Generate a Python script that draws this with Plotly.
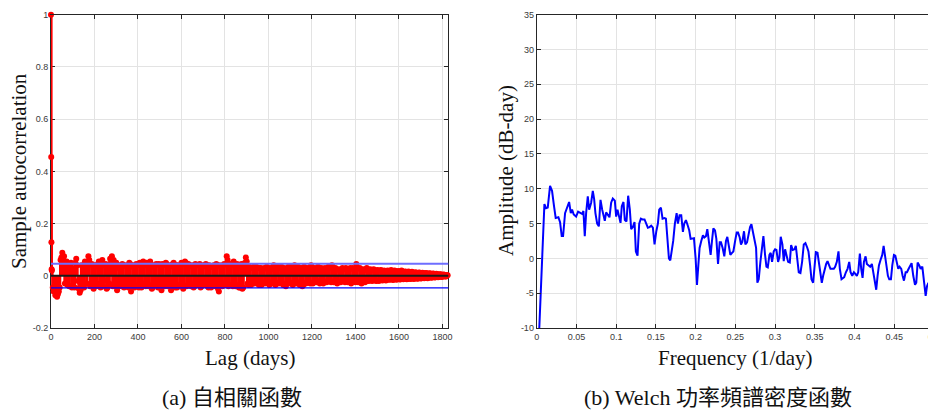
import plotly.graph_objects as go

# ---------------- Data: (a) sample autocorrelation ----------------
early_lags = [0, 1, 2, 3]
early_acf = [1.0, 0.455, 0.128, 0.025]

# lags 4, 8, 12, ... 1824 (every 4 days)
lag_start, lag_step = 4, 4
acf_values = [
    0.020, -0.045, -0.060, -0.050, -0.075, -0.065, -0.080, -0.070, -0.060, -0.045, 0.060, 0.070,
    0.088, 0.065, 0.075, -0.030, 0.040, 0.055, -0.035, 0.045, -0.040, 0.035, 0.050, -0.045,
    0.030, -0.040, -0.045, 0.050, 0.065, 0.040, -0.020, -0.050, -0.065, -0.055, 0.040, -0.035,
    0.030, -0.045, 0.055, 0.045, -0.030, 0.035, 0.075, 0.060, -0.040, -0.035, 0.045, 0.040,
    -0.050, 0.035, 0.040, -0.040, -0.030, 0.045, 0.055, -0.035, -0.045, 0.050, 0.060, -0.040,
    -0.020, 0.040, 0.045, -0.050, -0.045, 0.035, -0.030, 0.065, 0.050, 0.075, -0.040, 0.060,
    -0.040, 0.045, 0.050, -0.055, -0.040, 0.030, 0.040, -0.035, -0.040, 0.045, 0.040, -0.045,
    -0.035, 0.040, 0.035, -0.030, -0.045, 0.050, 0.045, -0.060, -0.040, 0.035, 0.040, -0.045,
    -0.040, 0.045, 0.040, -0.035, -0.045, 0.050, 0.045, -0.045, -0.035, 0.055, 0.040, -0.030,
    -0.040, 0.050, 0.045, -0.040, -0.035, 0.055, 0.040, -0.050, -0.045, 0.040, 0.035, -0.035,
    0.045, -0.035, -0.045, 0.045, 0.040, -0.040, -0.055, 0.045, 0.040, -0.030, -0.040, 0.050,
    0.045, -0.040, -0.035, 0.035, 0.040, -0.055, -0.045, 0.045, 0.050, -0.040, -0.045, 0.040,
    -0.045, 0.040, 0.035, -0.035, -0.040, 0.050, 0.045, -0.050, -0.040, 0.055, 0.050, -0.040,
    -0.035, 0.045, 0.040, -0.030, -0.040, 0.040, 0.035, -0.045, -0.040, 0.045, 0.040, -0.035,
    -0.035, 0.040, 0.045, -0.045, -0.040, 0.035, 0.040, -0.030, -0.035, 0.045, 0.040, -0.040,
    -0.045, 0.040, 0.035, -0.045, -0.040, 0.035, 0.040, -0.035, -0.040, 0.045, 0.040, -0.050,
    -0.060, 0.040, 0.035, -0.035, -0.040, 0.040, 0.045, -0.030, -0.035, 0.075, 0.060, -0.040,
    -0.035, 0.045, 0.040, -0.035, -0.040, 0.055, 0.045, -0.040, -0.035, 0.045, 0.040, -0.045,
    -0.045, 0.040, 0.045, -0.050, -0.045, 0.045, 0.050, 0.070, 0.055, -0.030, -0.035, 0.035,
    0.030, -0.035, -0.030, 0.030, 0.035, -0.030, -0.025, 0.035, 0.030, -0.030, -0.035, 0.030,
    0.030, -0.035, -0.030, 0.025, 0.030, -0.030, -0.025, 0.035, 0.030, -0.030, -0.035, 0.030,
    0.025, -0.025, -0.030, 0.040, 0.035, -0.035, -0.030, 0.030, 0.035, -0.030, -0.025, 0.030,
    0.035, -0.030, -0.035, 0.030, 0.025, -0.040, -0.030, 0.030, 0.035, -0.025, -0.030, 0.035,
    0.030, -0.035, -0.030, 0.040, 0.035, -0.030, -0.025, 0.035, 0.030, -0.035, -0.030, 0.030,
    -0.040, -0.035, 0.035, 0.030, -0.030, -0.025, 0.030, 0.025, -0.025, -0.030, 0.040, 0.030,
    -0.030, -0.025, 0.030, 0.025, -0.025, -0.020, 0.035, 0.030, -0.030, -0.025, 0.030, 0.025,
    -0.030, -0.025, 0.030, 0.025, -0.025, -0.020, 0.035, 0.030, -0.020, -0.025, 0.040, 0.030,
    -0.025, -0.020, 0.030, 0.025, -0.030, -0.025, 0.025, 0.020, -0.025, -0.020, 0.030, 0.025,
    -0.020, -0.025, 0.030, 0.025, -0.025, -0.020, 0.025, 0.030, -0.030, -0.025, 0.030, 0.025,
    -0.020, -0.025, 0.045, 0.030, -0.025, -0.020, 0.030, 0.025, -0.030, -0.025, 0.025, 0.020,
    -0.025, -0.020, 0.030, 0.025, -0.020, -0.018, 0.025, 0.022, -0.020, -0.018, 0.025, 0.020,
    -0.018, -0.020, 0.022, 0.020, -0.020, -0.016, 0.022, 0.020, -0.018, -0.016, 0.020, 0.018,
    -0.018, -0.016, 0.020, 0.018, -0.015, -0.014, 0.022, 0.018, -0.016, -0.014, 0.020, 0.017,
    -0.015, -0.013, 0.018, 0.016, -0.014, -0.013, 0.020, 0.016, -0.013, -0.012, 0.016, 0.015,
    -0.013, -0.012, 0.016, 0.014, -0.012, -0.011, 0.015, 0.013, -0.012, -0.010, 0.014, 0.012,
    -0.011, -0.010, 0.013, 0.012, -0.010, -0.009, 0.012, 0.011, -0.009, -0.008, 0.011, 0.010,
    -0.009, -0.008, 0.010, 0.009, -0.008, -0.007, 0.009, 0.008, -0.007, -0.006, 0.008, 0.007,
    -0.006, -0.005, 0.006, 0.006, -0.005, -0.004, 0.005, 0.004, -0.003, -0.003, 0.003, 0.002,
]
conf_bound = 0.046

acf_xticks = [0, 200, 400, 600, 800, 1000, 1200, 1400, 1600, 1800]
acf_yticks = [-0.2, 0, 0.2, 0.4, 0.6, 0.8, 1]
acf_yticklabels = ["-0.2", "0", "0.2", "0.4", "0.6", "0.8", "1"]

# ---------------- Data: (b) Welch PSD ----------------
freq = [
    0.0000, 0.0097, 0.0118, 0.0139, 0.0168, 0.0193, 0.0218, 0.0239, 0.0273, 0.0294,
    0.0315, 0.0332, 0.0357, 0.0387, 0.0408, 0.0429, 0.0445, 0.0466, 0.0496, 0.0521,
    0.0546, 0.0571, 0.0588, 0.0605, 0.0622, 0.0643, 0.0660, 0.0685, 0.0706, 0.0723,
    0.0739, 0.0761, 0.0782, 0.0803, 0.0824, 0.0840, 0.0857, 0.0874, 0.0895, 0.0916,
    0.0937, 0.0958, 0.0983, 0.1000, 0.1017, 0.1038, 0.1055, 0.1071, 0.1092, 0.1109,
    0.1130, 0.1151, 0.1172, 0.1189, 0.1210, 0.1231, 0.1248, 0.1269, 0.1290, 0.1311,
    0.1332, 0.1357, 0.1378, 0.1399, 0.1420, 0.1441, 0.1462, 0.1483, 0.1504, 0.1525,
    0.1542, 0.1563, 0.1584, 0.1609, 0.1626, 0.1647, 0.1664, 0.1681, 0.1702, 0.1718,
    0.1739, 0.1761, 0.1777, 0.1798, 0.1819, 0.1840, 0.1857, 0.1878, 0.1899, 0.1920,
    0.1937, 0.1958, 0.1979, 0.2000, 0.2017, 0.2034, 0.2050, 0.2071, 0.2092, 0.2109,
    0.2130, 0.2147, 0.2168, 0.2189, 0.2206, 0.2223, 0.2244, 0.2261, 0.2282, 0.2303,
    0.2319, 0.2340, 0.2361, 0.2382, 0.2399, 0.2420, 0.2437, 0.2458, 0.2475, 0.2500,
    0.2517, 0.2534, 0.2555, 0.2571, 0.2588, 0.2609, 0.2626, 0.2647, 0.2668, 0.2685,
    0.2702, 0.2723, 0.2744, 0.2761, 0.2777, 0.2794, 0.2815, 0.2836, 0.2853, 0.2874,
    0.2891, 0.2908, 0.2929, 0.2945, 0.2962, 0.2983, 0.3000, 0.3017, 0.3038, 0.3055,
    0.3071, 0.3092, 0.3109, 0.3126, 0.3143, 0.3164, 0.3185, 0.3202, 0.3223, 0.3244,
    0.3261, 0.3282, 0.3298, 0.3319, 0.3340, 0.3361, 0.3382, 0.3403, 0.3420, 0.3441,
    0.3458, 0.3479, 0.3496, 0.3513, 0.3534, 0.3550, 0.3571, 0.3588, 0.3605, 0.3622,
    0.3643, 0.3660, 0.3681, 0.3697, 0.3718, 0.3739, 0.3756, 0.3777, 0.3798, 0.3815,
    0.3836, 0.3853, 0.3870, 0.3891, 0.3912, 0.3933, 0.3950, 0.3971, 0.3992, 0.4008,
    0.4029, 0.4046, 0.4067, 0.4084, 0.4101, 0.4118, 0.4139, 0.4155, 0.4176, 0.4197,
    0.4218, 0.4235, 0.4256, 0.4273, 0.4290, 0.4307, 0.4328, 0.4349, 0.4366, 0.4382,
    0.4399, 0.4420, 0.4437, 0.4458, 0.4475, 0.4496, 0.4513, 0.4529, 0.4550, 0.4567,
    0.4588, 0.4605, 0.4622, 0.4643, 0.4660, 0.4681, 0.4702, 0.4718, 0.4739, 0.4761,
    0.4777, 0.4794, 0.4815, 0.4832, 0.4853, 0.4874, 0.4895, 0.4912, 0.4929, 0.4950,
    0.4971, 0.4992, 0.5000,
]
psd_db = [
    -19.0, 7.8, 7.2, 7.3, 10.4, 9.7, 7.5, 5.8, 5.9, 5.2,
    3.2, 3.2, 6.5, 7.6, 8.1, 6.5, 7.0, 6.3, 6.0, 6.7,
    6.6, 6.4, 6.8, 3.2, 6.5, 8.9, 7.0, 8.0, 9.7, 8.5,
    6.5, 5.0, 4.6, 8.4, 7.0, 6.0, 5.4, 6.6, 6.2, 5.9,
    8.0, 8.6, 8.3, 6.0, 7.0, 6.1, 5.1, 7.5, 8.1, 5.5,
    5.3, 9.0, 7.0, 4.2, 4.5, 5.2, 1.0, 0.4, 5.0, 5.7,
    5.6, 5.6, 5.0, 4.4, 4.5, 4.7, 4.4, 2.0, 3.8, 5.0,
    7.0, 7.3, 5.7, 5.8, 5.7, 2.5, 0.0, -0.3, 1.0, 2.5,
    5.0, 6.5, 5.0, 6.2, 6.2, 3.8, 5.0, 5.5, 4.8, 4.0,
    2.8, 2.8, 2.9, 0.0, -3.8, -1.0, 1.5, 2.5, 3.3, 3.0,
    3.2, 4.2, 2.5, 0.5, 2.5, 4.3, 4.0, 2.8, -0.8, 2.3,
    2.3, 1.5, 0.3, 2.5, 3.1, 1.5, 0.5, 0.8, 1.0, 2.7,
    3.7, 3.7, 3.0, 2.0, 2.4, 3.9, 2.0, 2.3, 3.5, 4.5,
    4.9, 3.6, 2.5, 1.5, -3.5, -3.0, -0.5, 1.5, 3.2, 0.5,
    -1.2, -1.3, 0.5, 0.8, -0.5, 1.0, 1.3, 1.2, -0.5, 0.2,
    3.1, 2.0, -0.4, 1.3, 0.3, -0.5, -0.6, 1.9, 1.2, 1.3,
    1.8, -0.5, -2.0, -2.1, -0.5, 2.0, 2.2, 1.6, 1.0, -1.0,
    -3.0, -3.5, -1.0, 0.9, 0.8, -0.5, -2.5, -3.5, -2.5, -1.5,
    -0.8, -0.4, -1.0, -1.5, -1.5, -1.5, -1.2, -0.5, 1.0, -1.5,
    -3.0, -2.8, -2.7, -2.0, -1.5, -0.5, -2.0, -2.5, -2.0, -2.2,
    -2.5, -2.0, 0.7, -1.5, -2.8, -0.5, 0.3, -0.8, -1.0, -1.2,
    -0.8, -2.0, -3.5, -4.5, -2.5, -1.0, -0.2, 0.5, 1.8, 0.5,
    -1.5, -2.5, -3.0, -3.0, -1.0, 0.5, 0.4, -0.5, -1.5, -1.2,
    -1.5, -2.5, -3.2, -2.0, -2.0, -1.5, -1.0, -0.7, -2.5, -3.8,
    -3.5, -0.6, -1.0, -1.5, -1.2, -3.5, -5.4, -4.0, -3.5, -4.5,
    -2.0, -3.2, -2.5,
]
psd_xticks = [0, 0.05, 0.1, 0.15, 0.2, 0.25, 0.3, 0.35, 0.4, 0.45, 0.5]
psd_xticklabels = ["0", "0.05", "0.1", "0.15", "0.2", "0.25", "0.3", "0.35", "0.4", "0.45", "0.5"]
psd_yticks = [-10, -5, 0, 5, 10, 15, 20, 25, 30, 35]
psd_yticklabels = ["-10", "-5", "0", "5", "10", "15", "20", "25", "30", "35"]

# ---------------- Page geometry (page body has an 8px margin) ----------------
OFF = 8
W, H = 936 - OFF, 415 - OFF

def px(xp):
    return (xp - OFF) / W

def py(yp):
    return 1 - (yp - OFF) / H

# ---------------- Build figure ----------------
lags = early_lags + [lag_start + lag_step * k for k in range(len(acf_values))]
acf = early_acf + acf_values

stem_x, stem_y = [], []
for l, v in zip(lags, acf):
    stem_x += [l, l, None]
    stem_y += [0, v, None]

RED = "#ff0000"
fig = go.Figure()
fig.add_trace(go.Scatter(x=stem_x, y=stem_y, mode="lines",
                         line=dict(color=RED, width=3.2), hoverinfo="skip",
                         showlegend=False, xaxis="x", yaxis="y"))
fig.add_trace(go.Scatter(x=lags, y=acf, mode="markers", cliponaxis=False,
                         marker=dict(color=RED, size=6, line=dict(width=0)),
                         showlegend=False, xaxis="x", yaxis="y"))
fig.add_trace(go.Scatter(x=freq, y=psd_db, mode="lines",
                         line=dict(color="#0000ff", width=2),
                         showlegend=False, xaxis="x2", yaxis="y2"))

# reference lines (zero line + confidence bounds)
fig.add_shape(type="line", xref="x domain", yref="y", x0=0, x1=1, y0=conf_bound, y1=conf_bound,
              line=dict(color="rgb(110,110,255)", width=1.8), layer="above")
fig.add_shape(type="line", xref="x domain", yref="y", x0=0, x1=1, y0=-conf_bound, y1=-conf_bound,
              line=dict(color="#0000ff", width=1.2), layer="above")
fig.add_shape(type="line", xref="x domain", yref="y", x0=0, x1=1, y0=0, y1=0,
              line=dict(color="#1a1a1a", width=2), layer="above")

tickfont = dict(family="Liberation Sans, Arial, sans-serif", size=9, color="#3a3a3a")
axis_common = dict(showline=True, linecolor="#262626", linewidth=1, mirror="ticks",
                   ticks="inside", ticklen=4, tickcolor="#262626",
                   showgrid=True, gridcolor="#e3e3e3", gridwidth=1,
                   zeroline=False, tickfont=tickfont, automargin=False,
                   ticklabeloverflow="allow")

fig.update_layout(
    width=W, height=H,
    margin=dict(l=0, r=0, t=0, b=0),
    paper_bgcolor="white", plot_bgcolor="white",
    xaxis=dict(domain=[px(51), px(448.3)], range=[0, 1827], tickvals=acf_xticks,
               ticktext=[str(t) for t in acf_xticks], anchor="y", **axis_common),
    yaxis=dict(domain=[py(328), py(14.7)], range=[-0.2, 1], tickvals=acf_yticks,
               ticktext=acf_yticklabels, anchor="x", layer="below traces", **axis_common),
    xaxis2=dict(domain=[px(536.7), min(1.0, px(934))], range=[0, 0.5], tickvals=psd_xticks,
                ticktext=psd_xticklabels, anchor="y2", **axis_common),
    yaxis2=dict(domain=[py(328), py(14.7)], range=[-10, 35], tickvals=psd_yticks,
                ticktext=psd_yticklabels, anchor="x2", **axis_common),
)

serif = "Liberation Serif, Times New Roman, serif"
cap_font = "Liberation Serif, Noto Sans CJK TC, serif"

def ann(text, x, y, size, family, angle=0):
    fig.add_annotation(text=text, x=px(x), y=py(y), xref="paper", yref="paper",
                       showarrow=False, font=dict(family=family, size=size, color="#111111"),
                       textangle=angle, xanchor="center", yanchor="middle")

ann("Lag (days)", 249.5, 358, 21, serif)
ann("Frequency (1/day)", 735, 358, 21, serif)
ann("Sample autocorrelation", 19, 171, 21, serif, angle=-90)
ann("Amplitude (dB-day)", 506, 171, 21, serif, angle=-90)
ann("(a) 自相關函數", 232, 397, 22, cap_font)
ann("(b) Welch 功率頻譜密度函數", 718, 397, 22, cap_font)

fig.write_html("out.html")
